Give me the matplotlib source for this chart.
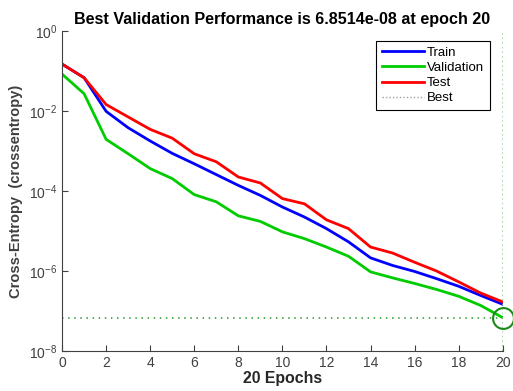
import numpy as np
import matplotlib
matplotlib.use('Agg')
import matplotlib.pyplot as plt

plt.rcParams['font.family'] = ['Liberation Sans', 'DejaVu Sans']
plt.rcParams['mathtext.default'] = 'regular'

epochs = list(range(21))
# log10 of cross-entropy
train_log = [-0.83, -1.17, -2.01, -2.42, -2.75, -3.06, -3.32, -3.59, -3.86, -4.11, -4.40,
             -4.65, -4.94, -5.27, -5.67, -5.86, -6.01, -6.19, -6.38, -6.61, -6.83]
valid_log = [-1.08, -1.57, -2.71, -3.07, -3.44, -3.69, -4.09, -4.27, -4.62, -4.76, -5.02,
             -5.19, -5.40, -5.63, -6.02, -6.17, -6.31, -6.46, -6.63, -6.86, -7.164]
test_log = [-0.83, -1.17, -1.84, -2.15, -2.46, -2.68, -3.07, -3.27, -3.65, -3.80, -4.19,
            -4.32, -4.72, -4.94, -5.40, -5.55, -5.78, -6.00, -6.27, -6.55, -6.77]
best_epoch = 20
best_perf = 6.8514e-08

train = 10 ** np.array(train_log)
valid = 10 ** np.array(valid_log)
test = 10 ** np.array(test_log)

fig = plt.figure(figsize=(5.13, 3.91), dpi=100)
ax = fig.add_axes([0.121, 0.102, 0.859, 0.819])

ax.semilogy(epochs, train, color='#0000ff', lw=2, label='Train')
ax.semilogy(epochs, valid, color='#00cc00', lw=2, label='Validation')
ax.semilogy(epochs, test, color='#ff0000', lw=2, label='Test')
ax.semilogy([0, best_epoch], [best_perf, best_perf], color='#2a9a2a', ls=(0, (1, 3)), lw=1.1)
ax.semilogy([best_epoch, best_epoch], [1e-8, 1], color='#8fc48f', ls=(0, (1, 2)), lw=1.1)
ax.semilogy([], [], color='#a0a0a0', ls=(0, (1, 1.5)), lw=1, label='Best')
ax.semilogy([best_epoch], [best_perf], 'o', mfc='none', mec='#1a8a1a', ms=15, mew=1.5, clip_on=False)

ax.set_xlim(0, 20)
ax.set_ylim(1e-8, 1)
ax.set_xticks(range(0, 21, 2))
ax.set_yticks([1e-8, 1e-6, 1e-4, 1e-2, 1])
ax.set_yticklabels(['$10^{-8}$', '$10^{-6}$', '$10^{-4}$', '$10^{-2}$', '$10^{0}$'])
ax.minorticks_off()
ax.tick_params(direction='in', colors='#404040', labelsize=10, length=4, width=0.8)
for s in ['top', 'right']:
    ax.spines[s].set_visible(False)
for s in ['left', 'bottom']:
    ax.spines[s].set_color('#404040')

ax.set_title('Best Validation Performance is 6.8514e-08 at epoch 20',
             fontsize=11.6, fontweight='bold', pad=5)
ax.set_xlabel('20 Epochs', fontsize=11.4, fontweight='bold', color='#262626', labelpad=1)
ax.set_ylabel('Cross-Entropy  (crossentropy)', fontsize=10.5, fontweight='bold', color='#404040',
              labelpad=4)

leg = ax.legend(loc='upper right', bbox_to_anchor=(0.985, 0.99), fontsize=9.5, fancybox=False,
                edgecolor='black', framealpha=1, handlelength=3.2, handletextpad=0.15,
                borderpad=0.45, labelspacing=0.22)
leg.get_frame().set_linewidth(0.8)

fig.savefig('out.png', dpi=100)
